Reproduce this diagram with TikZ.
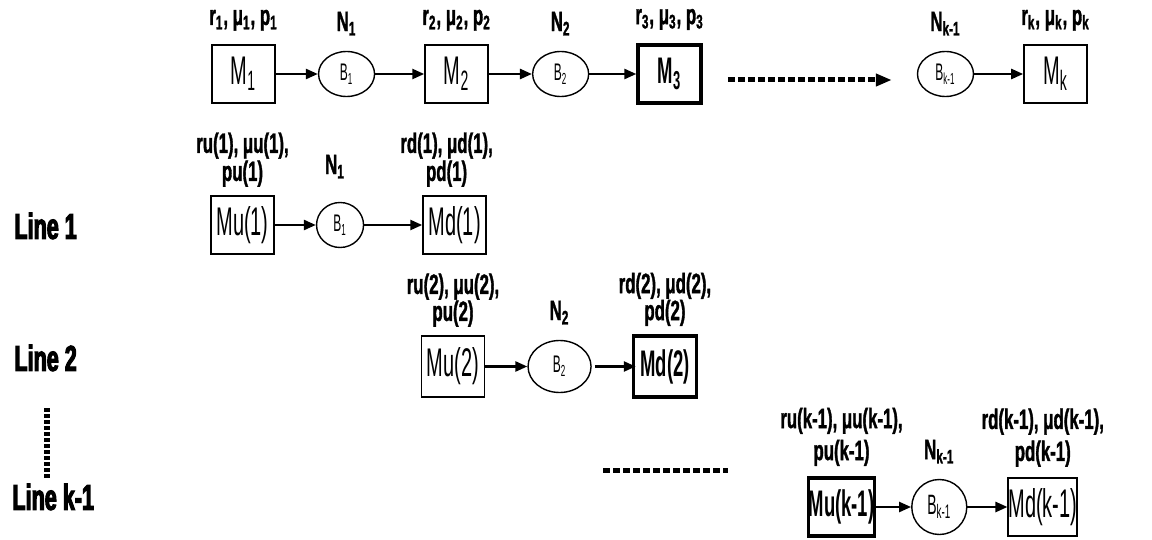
\documentclass[tikz,border=0pt]{standalone}
\usepackage{fontspec}
\setmainfont{Liberation Sans}[FakeStretch=0.6,BoldFeatures={FakeBold=1.2}]
\newfontfamily\boxfont{Liberation Sans}[FakeStretch=0.5]
\newfontfamily\linefont{Liberation Sans Bold}[FakeStretch=0.6,FakeBold=3]
\usetikzlibrary{arrows.meta,positioning,shapes.geometric}

\begin{document}
\begin{tikzpicture}[x=0.5pt,y=-0.5pt,
  mbox/.style={draw,line width=0.85pt,minimum width=31.5pt,minimum height=29pt,inner sep=0pt,font=\boxfont\fontsize{20}{20}\selectfont},
  mboxb/.style={mbox,line width=1.7pt,font=\boxfont\bfseries\fontsize{18.5}{18.5}\selectfont},
  buf/.style={draw,ellipse,line width=0.7pt,inner sep=0pt,minimum width=28pt,minimum height=22.5pt,font=\boxfont\fontsize{12}{12}\selectfont},
  lab/.style={font=\bfseries\fontsize{14}{12.5}\selectfont,align=center,inner sep=0pt},
  linelab/.style={font=\linefont\fontsize{18}{18}\selectfont,anchor=west,inner sep=0pt},
  ar/.style={-{Triangle[length=6pt,width=5pt]},line width=1.2pt},
  dots/.style={line width=2.5pt,dash pattern=on 3.5pt off 1.5pt}]

\useasboundingbox (0,0) rectangle (1152,540);

% serial line
\node[mbox] (M1) at (243.5,74) {M\textsubscript{1}};
\node[buf,right=21pt of M1] (B1) {B\textsubscript{1}};
\node[mbox,right=24.5pt of B1] (M2) {M\textsubscript{2}};
\node[buf,right=21.5pt of M2] (B2) {B\textsubscript{2}};
\node[mboxb,right=23.5pt of B2] (M3) {M\textsubscript{3}};
\node[buf] (Bk) at (945.5,74) {B\textsubscript{k-1}};
\node[mbox,right=24.5pt of Bk] (Mk) {M\textsubscript{k}};

\node[lab,above=6.5pt of M1] (pM1) {r\textsubscript{1}, μ\textsubscript{1}, p\textsubscript{1}};
\node[lab,above=7.5pt of B1] (N1) {N\textsubscript{1}};
\node[lab,above=6.5pt of M2] (pM2) {r\textsubscript{2}, μ\textsubscript{2}, p\textsubscript{2}};
\node[lab,above=7.5pt of B2] (N2) {N\textsubscript{2}};
\node[lab,above=6.5pt of M3] (pM3) {r\textsubscript{3}, μ\textsubscript{3}, p\textsubscript{3}};
\node[lab,above=7.5pt of Bk] (Nk) {N\textsubscript{k-1}};
\node[lab,above=6.5pt of Mk] (pMk) {r\textsubscript{k}, μ\textsubscript{k}, p\textsubscript{k}};

\draw[ar] (M1) -- (B1);
\draw[ar] (B1) -- (M2);
\draw[ar] (M2) -- (B2);
\draw[ar] (B2) -- (M3);
\draw[ar] (Bk) -- (Mk);
\draw[dots,-{Triangle[length=8pt,width=6pt]},shorten <=12.5pt,shorten >=12.5pt]
  ([yshift=-3pt]M3.east) -- ([yshift=-3pt]Bk.west);

% line 1
\node[linelab] (line1) at (14,226) {Line 1};
\node[mbox] (Mu1) at (242.5,225) {Mu(1)};
\node[buf,minimum width=23.5pt,right=20.5pt of Mu1] (Bl1) {B\textsubscript{1}};
\node[mbox,right=29pt of Bl1] (Md1) {Md(1)};
\node[lab,above=4pt of Mu1] (pMu1) {ru(1), μu(1),\\pu(1)};
\node[lab,above=11.5pt of Bl1,xshift=-2.5pt] (Nl1) {N\textsubscript{1}};
\node[lab,above=4pt of Md1,xshift=-4pt] (pMd1) {rd(1), μd(1),\\pd(1)};
\draw[ar] (Mu1) -- (Bl1);
\draw[ar] (Bl1) -- (Md1);

% line 2
\node[linelab] (line2) at (14,358) {Line 2};
\node[mbox,minimum height=30.5pt] (Mu2) at (453,366.5) {Mu(2)};
\node[buf,minimum width=31.5pt,minimum height=26pt,right=21pt of Mu2] (Bl2) {B\textsubscript{2}};
\node[mboxb,minimum height=30.5pt,right=20pt of Bl2] (Md2) {Md(2)};
\node[lab,above=4pt of Mu2,font=\bfseries\fontsize{14}{13.5}\selectfont] (pMu2) {ru(2), μu(2),\\pu(2)};
\node[lab,above=7.5pt of Bl2] (Nl2) {N\textsubscript{2}};
\node[lab,above=4pt of Md2,font=\bfseries\fontsize{14}{13.5}\selectfont] (pMd2) {rd(2), μd(2),\\pd(2)};
\draw[ar] (Mu2) -- (Bl2);
\draw[ar,shorten <=1.5pt,shorten >=-2pt] (Bl2) -- (Md2);

% line k-1
\node[linelab] (linek) at (12,497) {Line k-1};
\coordinate (vdA) at (47,408);
\coordinate (vdB) at (47,478);
\draw[line width=3pt,dash pattern=on 2pt off 1pt] (vdA) -- (vdB);
\coordinate (hdA) at (603,470);
\coordinate (hdB) at (728,470);
\draw[dots] (hdA) -- (hdB);
\node[mboxb] (Muk) at (841.5,507) {Mu(k-1)};
\node[buf,minimum width=27.5pt,minimum height=27.5pt,font=\boxfont\fontsize{14}{14}\selectfont,right=17.5pt of Muk] (Blk) {B\textsubscript{k-1}};
\node[mbox,minimum width=30pt,right=20pt of Blk] (Mdk) {Md(k-1)};
\node[lab,above=5pt of Muk,font=\bfseries\fontsize{14}{16}\selectfont] (pMuk) {ru(k-1), μu(k-1),\\pu(k-1)};
\node[lab,above=7.5pt of Blk] (Nlk) {N\textsubscript{k-1}};
\node[lab,above=5pt of Mdk,font=\bfseries\fontsize{14}{16}\selectfont] (pMdk) {rd(k-1), μd(k-1),\\pd(k-1)};
\draw[ar] (Muk) -- (Blk);
\draw[ar] (Blk) -- (Mdk);
\end{tikzpicture}
\end{document}
